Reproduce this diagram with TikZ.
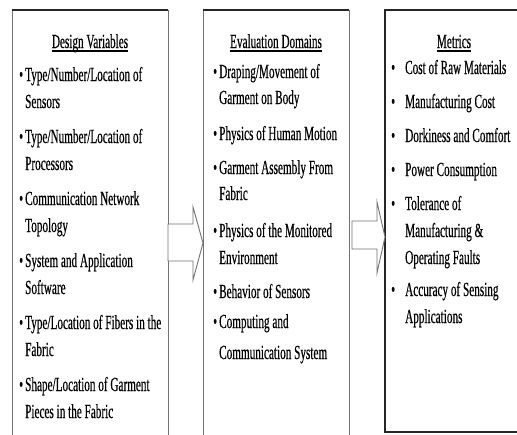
\documentclass[tikz,border=0pt]{standalone}
\usepackage{fontspec}
\setmainfont[FakeStretch=0.56,FakeBold=0.4]{Liberation Serif}
\begin{document}
\begin{tikzpicture}[x=1pt,y=-1pt,
  txt/.style={inner sep=0pt, anchor=base west, font=\fontsize{20}{20}\selectfont},
  ttl/.style={inner sep=0pt, anchor=base, font=\fontsize{20}{20}\selectfont},
  bul/.style={inner sep=0pt, anchor=base west, font=\fontsize{20}{20}\selectfont},
  boxline/.style={draw=black!55, line width=1pt},
  boxtop/.style={draw=black!85, line width=1.2pt},
  blockarrow/.style={draw=black!55, fill=white, line width=0.9pt, line join=miter},
  uline/.style={line width=2.4pt, black}]
\useasboundingbox (0,0) rectangle (517,434);
\clip (0,0) rectangle (517,434);
\fill[white] (0,0) rectangle (517,434);

% boxes
\draw[boxline] (12,10) -- (12,440);
\draw[boxline] (168,10) -- (168,440);
\draw[boxtop] (12,10) -- (168,10);
\draw[boxline] (203,10) -- (203,440);
\draw[boxline] (349,10) -- (349,440);
\draw[boxtop] (203,10) -- (349,10);
\draw[boxtop] (530,10) -- (385,10) -- (385,432) -- (530,432);

% block arrows
\draw[blockarrow] (168,224) -- (193,224) -- (193,207) -- (203,243) -- (193,280) -- (193,261) -- (168,261) -- cycle;
\draw[blockarrow] (352,221) -- (377,221) -- (377,202) -- (385,237) -- (377,273) -- (377,249) -- (352,249) -- cycle;

% column 1
\node[ttl] (t1) at (90,48) {Design Variables};
\draw[uline] ([yshift=-3pt]t1.base west) -- ([yshift=-3pt]t1.base east);
\foreach \y/\n in {81/b1a,143/b1b,205/b1c,267/b1d,329/b1e,391/b1f}
  \node[bul] (\n) at (19,\y) {\textbullet};
\node[txt] (a1) at (25,81) {Type/Number/Location of};
\node[txt] (a2) at (25,108) {Sensors};
\node[txt] (a3) at (25,143) {Type/Number/Location of};
\node[txt] (a4) at (25,170) {Processors};
\node[txt] (a5) at (25,205) {Communication Network};
\node[txt] (a6) at (25,232) {Topology};
\node[txt] (a7) at (25,267) {System and Application};
\node[txt] (a8) at (25,294) {Software};
\node[txt] (a9) at (25,329) {Type/Location of Fibers in the};
\node[txt] (a10) at (25,356) {Fabric};
\node[txt] (a11) at (25,391) {Shape/Location of Garment};
\node[txt] (a12) at (25,418) {Pieces in the Fabric};

% column 2
\node[ttl] (t2) at (276,48) {Evaluation Domains};
\draw[uline] ([yshift=-3pt]t2.base west) -- ([yshift=-3pt]t2.base east);
\foreach \y/\n in {78/b2a,140/b2b,174/b2c,237/b2d,298/b2e,328/b2f}
  \node[bul] (\n) at (213,\y) {\textbullet};
\node[txt] (c1) at (219,78) {Draping/Movement of};
\node[txt] (c2) at (219,104) {Garment on Body};
\node[txt] (c3) at (219,140) {Physics of Human Motion};
\node[txt] (c4) at (219,174) {Garment Assembly From};
\node[txt] (c5) at (219,200) {Fabric};
\node[txt] (c6) at (219,237) {Physics of the Monitored};
\node[txt] (c7) at (219,264) {Environment};
\node[txt] (c8) at (219,298) {Behavior of Sensors};
\node[txt] (c9) at (219,328) {Computing and};
\node[txt] (c10) at (219,359) {Communication System};

% column 3
\node[ttl] (t3) at (454,48) {Metrics};
\draw[uline] ([yshift=-3pt]t3.base west) -- ([yshift=-3pt]t3.base east);
\foreach \y/\n in {74/b3a,108/b3b,142/b3c,176/b3d,210/b3e,296/b3f}
  \node[bul] (\n) at (391,\y) {\textbullet};
\node[txt] (m1) at (405,74) {Cost of Raw Materials};
\node[txt] (m2) at (405,108) {Manufacturing Cost};
\node[txt] (m3) at (405,142) {Dorkiness and Comfort};
\node[txt] (m4) at (405,176) {Power Consumption};
\node[txt] (m5) at (405,210) {Tolerance of};
\node[txt] (m6) at (405,237) {Manufacturing \&};
\node[txt] (m7) at (405,264) {Operating Faults};
\node[txt] (m8) at (405,296) {Accuracy of Sensing};
\node[txt] (m9) at (405,323) {Applications};
\end{tikzpicture}
\end{document}
